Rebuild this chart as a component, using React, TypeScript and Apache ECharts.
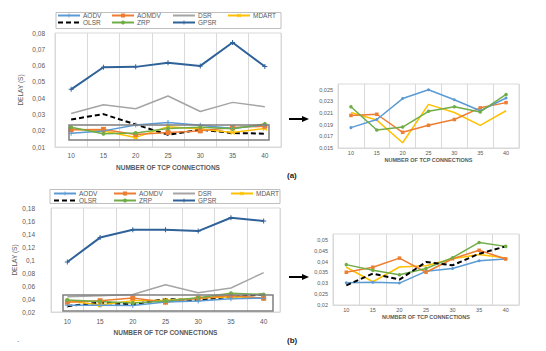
import React, { useEffect, useRef } from 'react';
import * as echarts from 'echarts';

const categories = ['10', '15', '20', '25', '30', '35', '40'];

// (a) delay values
const aAODV = [0.0185, 0.0199, 0.0235, 0.025, 0.0233, 0.0214, 0.0236];
const aAOMDV = [0.0206, 0.0208, 0.0177, 0.0189, 0.0199, 0.0219, 0.0228];
const aDSR = [0.0306, 0.036, 0.0335, 0.0413, 0.0318, 0.0374, 0.0347];
const aMDART = [0.0211, 0.0198, 0.0159, 0.0225, 0.0211, 0.0189, 0.0214];
const aOLSR = [0.0269, 0.0302, 0.0238, 0.0175, 0.0207, 0.0186, 0.0182];
const aZRP = [0.0221, 0.0181, 0.0186, 0.0213, 0.0221, 0.0212, 0.0242];
const aGPSR = [0.0454, 0.059, 0.0592, 0.0618, 0.0598, 0.0742, 0.0594];

// (b) delay values
const bAODV = [0.0302, 0.0305, 0.0301, 0.0355, 0.0368, 0.0404, 0.0412];
const bAOMDV = [0.0351, 0.0374, 0.0416, 0.0351, 0.0413, 0.0452, 0.0412];
const bDSR = [0.0435, 0.045, 0.047, 0.062, 0.0495, 0.057, 0.0805];
const bMDART = [0.0374, 0.0307, 0.0375, 0.0381, 0.0413, 0.0433, 0.0416];
const bOLSR = [0.029, 0.0345, 0.0317, 0.0398, 0.0383, 0.0436, 0.047];
const bZRP = [0.0386, 0.036, 0.0339, 0.0368, 0.0418, 0.0488, 0.047];
const bGPSR = [0.097, 0.1345, 0.1465, 0.1465, 0.1445, 0.165, 0.16];

// y tick labels
const yTicksMainA = [0.01, 0.02, 0.03, 0.04, 0.05, 0.06, 0.07, 0.08];
const yTicksZoomA = [0.015, 0.017, 0.019, 0.021, 0.023, 0.025];
const yTicksMainB = [0.02, 0.04, 0.06, 0.08, 0.1, 0.12, 0.14, 0.16, 0.18];
const yTicksZoomB = [0.02, 0.025, 0.03, 0.035, 0.04, 0.045, 0.05];
const zoomTopA = 0.026;
const zoomTopB = 0.0527;

const FONT = 'Liberation Sans, Arial, sans-serif';
const GREY = '#595959';

const COLORS: Record<string, string> = {
  AODV: '#5B9BD5',
  AOMDV: '#ED7D31',
  DSR: '#A5A5A5',
  MDART: '#FFC000',
  OLSR: '#000000',
  ZRP: '#70AD47',
  GPSR: '#2F6299',
};

const PLUS = 'path://M2,0H3V2H5V3H3V5H2V3H0V2H2Z';
const CROSS = 'path://M0,1L1,0L2.5,1.5L4,0L5,1L3.5,2.5L5,4L4,5L2.5,3.5L1,5L0,4L1.5,2.5Z';

const fmt = (v: number) => String(Math.round(v * 10000) / 10000).replace('.', ',');
const step = (t: number[]) => Math.round((t[1] - t[0]) * 100000) / 100000;

type SDef = { name: string; data: number[]; symbol: string; size: number; width: number; dashed?: boolean };

function mainDefs(d: Record<string, number[]>): SDef[] {
  return [
    { name: 'DSR', data: d.DSR, symbol: 'none', size: 0, width: 1.5 },
    { name: 'GPSR', data: d.GPSR, symbol: PLUS, size: 5, width: 2 },
    { name: 'OLSR', data: d.OLSR, symbol: 'none', size: 0, width: 2, dashed: true },
    { name: 'MDART', data: d.MDART, symbol: CROSS, size: 5, width: 1.5 },
    { name: 'AOMDV', data: d.AOMDV, symbol: 'rect', size: 5, width: 1.5 },
    { name: 'AODV', data: d.AODV, symbol: PLUS, size: 5, width: 1.5 },
    { name: 'ZRP', data: d.ZRP, symbol: 'circle', size: 4, width: 1.5 },
  ];
}

function toSeries(defs: SDef[], idx: number) {
  return defs.map((s) => ({
    type: 'line',
    name: s.name,
    xAxisIndex: idx,
    yAxisIndex: idx,
    data: s.data,
    symbol: s.symbol,
    symbolSize: s.size,
    showSymbol: s.symbol !== 'none',
    itemStyle: { color: COLORS[s.name] },
    lineStyle: { color: COLORS[s.name], width: s.width, type: s.dashed ? [5, 3] : 'solid' },
    emphasis: { disabled: true },
    silent: true,
  }));
}

const grids = [
  { left: 55, top: 33, width: 226, height: 114 },
  { left: 338, top: 84, width: 181, height: 64 },
  { left: 51, top: 208, width: 229, height: 104 },
  { left: 333, top: 234, width: 186, height: 71 },
];

export default function App() {
  const ref = useRef<HTMLDivElement>(null);
  useEffect(() => {
    if (!ref.current) return;
    const chart = echarts.init(ref.current, undefined, { renderer: 'svg' });

    const xAxis = (gridIndex: number, nameGap: number, labelMargin: number, fs: number) => ({
      type: 'category',
      gridIndex,
      data: categories,
      boundaryGap: true,
      name: 'NUMBER OF TCP CONNECTIONS',
      nameLocation: 'middle',
      nameGap,
      nameTextStyle: { fontSize: fs, color: GREY, fontFamily: FONT, fontWeight: 'bold' },
      axisLine: { show: true, lineStyle: { color: '#D9D9D9', width: 1 } },
      axisTick: { show: false },
      axisLabel: { fontSize: fs, color: GREY, fontFamily: FONT, margin: labelMargin },
      splitLine: { show: true, lineStyle: { color: '#D9D9D9', width: 1 } },
    });

    const yAxis = (gridIndex: number, ticks: number[], max: number, margin: number, fs: number, name?: string, nameGap?: number) => ({
      type: 'value',
      gridIndex,
      min: ticks[0],
      max,
      interval: step(ticks),
      name: name || '',
      nameLocation: 'middle',
      nameRotate: 90,
      nameGap: nameGap || 0,
      nameTextStyle: { fontSize: 6.5, color: GREY, fontFamily: FONT },
      axisLine: { show: false },
      axisTick: { show: false },
      splitLine: { show: false },
      axisLabel: {
        fontSize: fs,
        color: GREY,
        fontFamily: FONT,
        margin,
        showMaxLabel: max === ticks[ticks.length - 1],
        formatter: (v: number) => fmt(v),
      },
    });

    const legendCols = [['AODV', 'OLSR'], ['AOMDV', 'ZRP'], ['DSR', 'GPSR'], ['MDART']];
    const noMarker = ['DSR', 'OLSR'];
    const legends: any[] = [];
    const addLegends = (lefts: number[], top: number) => {
      legendCols.forEach((col, i) => {
        legends.push({
          orient: 'vertical',
          left: lefts[i],
          top,
          padding: 0,
          itemGap: 0,
          itemWidth: 22,
          itemHeight: 5,
          selectedMode: false,
          data: col.map((n) => (noMarker.includes(n) ? { name: n, itemStyle: { opacity: 0 } } : { name: n })),
          textStyle: { fontSize: 6.5, color: GREY, fontFamily: FONT, lineHeight: 7, padding: [0, 0, 0, -2] },
        });
      });
    };
    addLegends([57, 111, 172, 227], 12);
    addLegends([53, 113, 172, 230], 190);

    const mainA = mainDefs({ AODV: aAODV, AOMDV: aAOMDV, DSR: aDSR, MDART: aMDART, OLSR: aOLSR, ZRP: aZRP, GPSR: aGPSR });
    const mainB = mainDefs({ AODV: bAODV, AOMDV: bAOMDV, DSR: bDSR, MDART: bMDART, OLSR: bOLSR, ZRP: bZRP, GPSR: bGPSR });
    const zoomA: SDef[] = [
      { name: 'MDART', data: aMDART, symbol: 'none', size: 0, width: 1.5 },
      { name: 'AOMDV', data: aAOMDV, symbol: 'rect', size: 3.5, width: 1.5 },
      { name: 'AODV', data: aAODV, symbol: 'circle', size: 3, width: 1.5 },
      { name: 'ZRP', data: aZRP, symbol: 'circle', size: 3.5, width: 1.5 },
    ];
    const zoomB: SDef[] = [
      { name: 'MDART', data: bMDART, symbol: 'none', size: 0, width: 1.5 },
      { name: 'AODV', data: bAODV, symbol: 'circle', size: 3, width: 1.5 },
      { name: 'AOMDV', data: bAOMDV, symbol: 'rect', size: 3.5, width: 1.5 },
      { name: 'ZRP', data: bZRP, symbol: 'circle', size: 3.5, width: 1.5 },
      { name: 'OLSR', data: bOLSR, symbol: 'none', size: 0, width: 2, dashed: true },
    ];

    const arrow = (y: number) => [
      { type: 'line', shape: { x1: 289, y1: y, x2: 304, y2: y }, style: { stroke: '#000', lineWidth: 2 } },
      { type: 'polygon', shape: { points: [[302, y - 3], [309, y], [302, y + 3]] }, style: { fill: '#000' } },
    ];

    chart.setOption({
      animation: false,
      backgroundColor: '#ffffff',
      grid: grids.map((g) => ({
        ...g,
        show: true,
        borderColor: '#D9D9D9',
        borderWidth: 1,
        backgroundColor: 'transparent',
        containLabel: false,
        outerBoundsMode: 'none',
      })),
      legend: legends,
      xAxis: [xAxis(0, 16.5, 5, 6.5), xAxis(1, 9, 2, 5.5), xAxis(2, 16.5, 6, 6.5), xAxis(3, 9, 2, 5.5)],
      yAxis: [
        yAxis(0, yTicksMainA, yTicksMainA[yTicksMainA.length - 1], 10, 6.5, 'DELAY (S)', 31.5),
        yAxis(1, yTicksZoomA, zoomTopA, 5, 5.5),
        yAxis(2, yTicksMainB, yTicksMainB[yTicksMainB.length - 1], 16, 6.5, 'DELAY (S)', 28.5),
        yAxis(3, yTicksZoomB, zoomTopB, 5, 5.5),
      ],
      series: [...toSeries(mainA, 0), ...toSeries(zoomA, 1), ...toSeries(mainB, 2), ...toSeries(zoomB, 3)],
      graphic: [
        { type: 'rect', shape: { x: 56, y: 12.5, width: 225, height: 16 }, style: { fill: 'none', stroke: '#BFBFBF', lineWidth: 1 } },
        { type: 'rect', shape: { x: 50, y: 189.5, width: 230, height: 14 }, style: { fill: 'none', stroke: '#BFBFBF', lineWidth: 1 } },
        { type: 'rect', z: 100, shape: { x: 69, y: 125, width: 200, height: 15 }, style: { fill: 'none', stroke: '#7F7F7F', lineWidth: 1.5 } },
        { type: 'rect', z: 100, shape: { x: 63, y: 295, width: 210, height: 16 }, style: { fill: 'none', stroke: '#7F7F7F', lineWidth: 1.5 } },
        ...arrow(119),
        ...arrow(277),
        { type: 'text', x: 287, y: 175, style: { text: '(a)', fontSize: 8, fontWeight: 'bold', fontFamily: FONT, fill: '#222', verticalAlign: 'middle' } },
        { type: 'text', x: 287, y: 340, style: { text: '(b)', fontSize: 8, fontWeight: 'bold', fontFamily: FONT, fill: '#222', verticalAlign: 'middle' } },
        { type: 'text', x: 17, y: 339, style: { text: '.', fontSize: 8, fontFamily: FONT, fill: '#444', verticalAlign: 'middle' } },
      ],
    });
    return () => chart.dispose();
  }, []);
  return <div ref={ref} style={{ position: 'fixed', left: 0, top: 0, width: 546, height: 351 }} />;
}
